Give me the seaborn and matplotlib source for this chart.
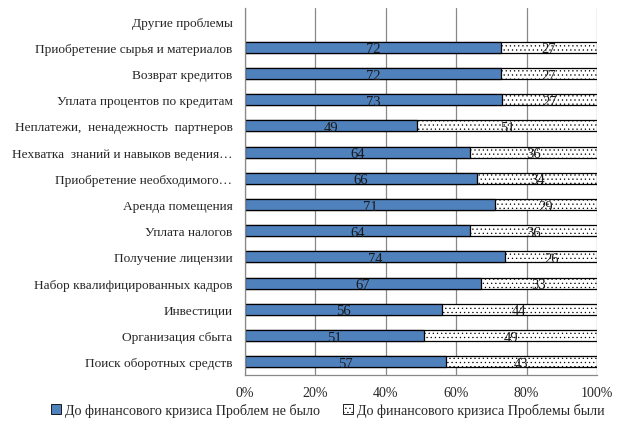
import matplotlib
matplotlib.use("Agg")
import matplotlib.pyplot as plt
import seaborn as sns
import pandas as pd
import numpy as np

categories = [
    "Другие проблемы",
    "Приобретение сырья и материалов",
    "Возврат кредитов",
    "Уплата процентов по кредитам",
    "Неплатежи,  ненадежность  партнеров",
    "Нехватка  знаний и навыков ведения…",
    "Приобретение необходимого…",
    "Аренда помещения",
    "Уплата налогов",
    "Получение лицензии",
    "Набор квалифицированных кадров",
    "Инвестиции",
    "Организация сбыта",
    "Поиск оборотных средств",
]
no_problems = [np.nan, 72, 72, 73, 49, 64, 66, 71, 64, 74, 67, 56, 51, 57]
had_problems = [np.nan, 27, 27, 27, 51, 36, 34, 29, 36, 26, 33, 44, 49, 43]
series_names = ["До финансового кризиса Проблем не было",
                "До финансового кризиса Проблемы были"]

sns.set_style("white")
plt.rcParams['font.family'] = ['Liberation Serif', 'DejaVu Serif']
plt.rcParams['hatch.linewidth'] = 0.4

df = pd.DataFrame({"cat": categories, "a": no_problems, "b": had_problems})
tot = df["a"] + df["b"]
df["pa"] = df["a"] / tot * 100
df["pb"] = df["b"] / tot * 100
df["full"] = np.where(tot.notna(), 100.0, np.nan)

fig = plt.figure(figsize=(6.33, 4.31), dpi=100)
ax = fig.add_axes([0.387, 0.128, 0.556, 0.851])

blue = "#4F81BD"
sns.barplot(data=df, y="cat", x="full", order=categories, color="white",
            width=0.42, edgecolor="black", linewidth=0.9, ax=ax, orient="h",
            errorbar=None, saturation=1)
for p in ax.patches:
    p.set_hatch("....")
sns.barplot(data=df, y="cat", x="pa", order=categories, color=blue,
            width=0.42, edgecolor="black", linewidth=0.9, ax=ax, orient="h",
            errorbar=None, saturation=1)

for i, row in df.iterrows():
    if pd.isna(row["a"]):
        continue
    ax.text(row["pa"] / 2, i, f"{int(row['a'])}", ha="center", va="center_baseline",
            fontsize=10.5, color="#1a1a1a")
    ax.text(row["pa"] + row["pb"] / 2, i, f"{int(row['b'])}", ha="center",
            va="center_baseline", fontsize=10.5, color="#1a1a1a")

ax.set_xlim(0, 100)
ax.set_ylim(13.5, -0.5)
ax.set_xticks([0, 20, 40, 60, 80, 100])
ax.set_xticklabels(["0%", "20%", "40%", "60%", "80%", "100%"], fontsize=10)
ax.set_yticks(range(len(categories)))
ax.set_yticklabels(categories, fontsize=9.6)
ax.set_yticks(np.arange(-0.5, 13.6, 1), minor=True)
ax.tick_params(axis="y", which="major", length=0, pad=9)
ax.tick_params(axis="y", which="minor", length=4, color="#888888", width=0.8, direction="out")
ax.tick_params(axis="x", which="major", length=4, color="#888888", width=0.8, direction="out", pad=4)
ax.set_xlabel("")
ax.set_ylabel("")
ax.xaxis.grid(True, color="#888888", linewidth=0.9)
ax.yaxis.grid(False)
ax.set_axisbelow(True)
for s in ["top", "right"]:
    ax.spines[s].set_visible(False)
for s in ["left", "bottom"]:
    ax.spines[s].set_color("#888888")
    ax.spines[s].set_linewidth(0.9)

from matplotlib.patches import Patch
handles = [Patch(facecolor=blue, edgecolor="black", linewidth=0.6),
           Patch(facecolor="white", edgecolor="black", hatch="....", linewidth=0.6)]
fig.legend(handles, series_names, loc="center", bbox_to_anchor=(0.518, 0.047),
           ncol=2, frameon=False, fontsize=10.1, handlelength=0.7, handleheight=0.7,
           handletextpad=0.3, columnspacing=1.6)

fig.savefig("out.png", dpi=100)
